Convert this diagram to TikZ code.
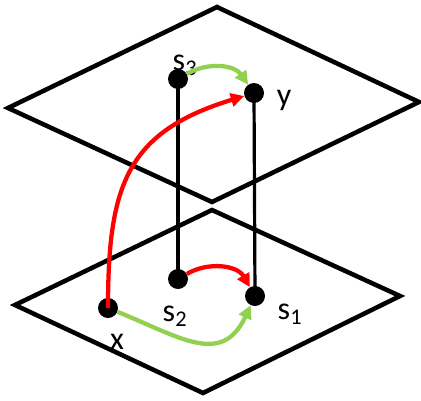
\documentclass[tikz,border=0pt]{standalone}
\usepackage{fontspec}
\setmainfont{Carlito}
\usetikzlibrary{arrows.meta}
\definecolor{rot}{RGB}{255,0,0}
\definecolor{gruen}{RGB}{146,208,80}

\begin{document}
\begin{tikzpicture}[x=0.75pt,y=0.75pt,
    punkt/.style={circle,fill=black,inner sep=0pt,minimum size=15pt},
    beschr/.style={font=\fontsize{24}{28}\selectfont,inner sep=0pt},
    pfeil/.style={line width=3.2pt,-{Triangle[length=10pt,width=10pt]}}]
    \useasboundingbox (0,0) rectangle (421,-400);
    % obere Ebene:
    \draw[line width=3.4pt] (217,-7) -- (419,-102) -- (212,-202) -- (8,-108) -- cycle;
    % untere Ebene:
    \draw[line width=3.4pt] (212,-210) -- (400,-296) -- (203,-393) -- (15,-305) -- cycle;
    % Beschriftungen:
    \node[beschr] (l3) at (185,-65) {s\textsubscript{3}};
    \node[beschr] (ly) at (284,-100) {y};
    \node[beschr] (l2) at (175,-316) {s\textsubscript{2}};
    \node[beschr] (l1) at (290,-314) {s\textsubscript{1}};
    \node[beschr] (lx) at (117,-342) {x};
    % senkrechte Striche:
    \draw[line width=2.4pt] (178,-79) -- (178,-279); % links
    \draw[line width=2.4pt] (254,-93) -- (255,-296); % rechts
    % Punkte:
    \node[punkt] (s3) at (178,-79) {};
    \node[punkt] (y) at (254,-93) {};
    \node[punkt] (s2) at (178,-279) {};
    \node[punkt] (s1) at (255,-296) {};
    \node[punkt] (x) at (108,-308) {};
    % Pfeile:
    \draw[pfeil,rot] (x.center) to[out=90,in=197,looseness=1.25] (y);
    \draw[pfeil,rot] (s2) to[out=30,in=120] (s1);
    \draw[pfeil,gruen] (s3) to[out=30,in=125] (y);
    \draw[pfeil,gruen] (x) to[out=-22,in=-115,looseness=1.3] (s1);
\end{tikzpicture}
\end{document}
